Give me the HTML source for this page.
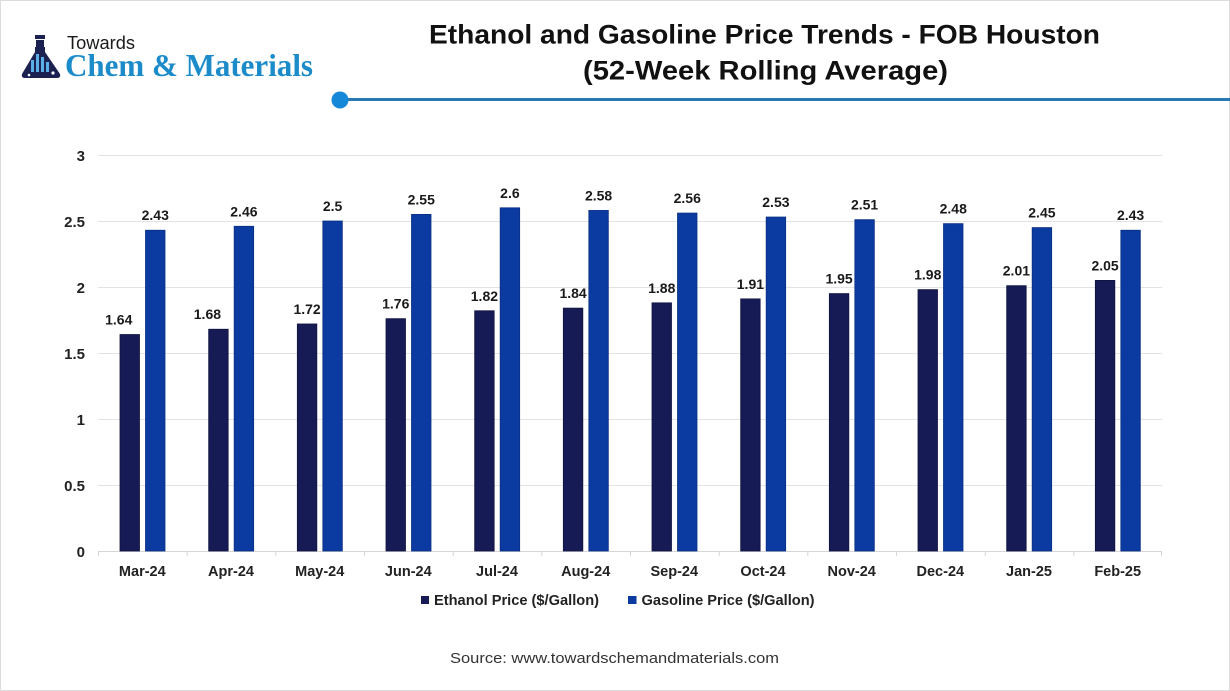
<!DOCTYPE html>
<html>
<head>
<meta charset="utf-8">
<style>
html,body{margin:0;padding:0;background:#fff;}
body{width:1230px;height:691px;overflow:hidden;}
svg{display:block;}
text{font-family:"Liberation Sans",sans-serif;}
</style>
</head>
<body>
<svg width="1230" height="691" viewBox="0 0 1230 691" xmlns="http://www.w3.org/2000/svg">
  <rect x="0.5" y="0.5" width="1229" height="690" fill="#fff" stroke="#dcdcdc" stroke-width="1"/>

  <!-- Logo icon -->
  <g>
    <rect x="35" y="35" width="10" height="4" fill="#1b2150"/>
    <rect x="36" y="40" width="8" height="7" fill="#1b2150"/>
    <path d="M35 47 L45 47 L45 52 L60 74 Q61 78 57 78 L25 78 Q21 78 22 74 L35 52 Z" fill="#1b2150"/>
    <rect x="31" y="60" width="3" height="12" fill="#5ab0e6"/>
    <rect x="36" y="54" width="3" height="18" fill="#5ab0e6"/>
    <rect x="41" y="57" width="3" height="15" fill="#5ab0e6"/>
    <rect x="46" y="62" width="3" height="10" fill="#5ab0e6"/>
    <circle cx="53" cy="73" r="1.6" fill="#ffffff"/>
    <circle cx="29" cy="75" r="1.3" fill="#ffffff"/>
  </g>
  <text x="67" y="49" font-size="18" fill="#1a1a1a" textLength="68" lengthAdjust="spacingAndGlyphs">Towards</text>
  <text x="65" y="76" font-size="32" font-weight="bold" fill="#1c8bc9" style="font-family:'Liberation Serif',serif" textLength="248" lengthAdjust="spacingAndGlyphs">Chem &amp; Materials</text>

  <!-- Title -->
  <text x="429" y="43.5" font-size="27" font-weight="bold" fill="#111" textLength="671" lengthAdjust="spacingAndGlyphs">Ethanol and Gasoline Price Trends - FOB Houston</text>
  <text x="583" y="79.5" font-size="27" font-weight="bold" fill="#111" textLength="365" lengthAdjust="spacingAndGlyphs">(52-Week Rolling Average)</text>

  <!-- Divider -->
  <line x1="340" y1="99.5" x2="1230" y2="99.5" stroke="#2a78b3" stroke-width="3"/>
  <circle cx="340" cy="100" r="8.5" fill="#1688d8"/>

  <!-- Gridlines -->
  <g stroke="#e3e3e3" stroke-width="1">
    <line x1="98" y1="155.5" x2="1162" y2="155.5"/>
    <line x1="98" y1="221.5" x2="1162" y2="221.5"/>
    <line x1="98" y1="287.5" x2="1162" y2="287.5"/>
    <line x1="98" y1="353.5" x2="1162" y2="353.5"/>
    <line x1="98" y1="419.5" x2="1162" y2="419.5"/>
    <line x1="98" y1="485.5" x2="1162" y2="485.5"/>
  </g>
  <line x1="98" y1="551.5" x2="1162" y2="551.5" stroke="#d6d6d6" stroke-width="1"/>
  <g stroke="#d6d6d6" stroke-width="1">
    <line x1="98.5" y1="551" x2="98.5" y2="556"/>
    <line x1="187.2" y1="551" x2="187.2" y2="556"/>
    <line x1="275.8" y1="551" x2="275.8" y2="556"/>
    <line x1="364.5" y1="551" x2="364.5" y2="556"/>
    <line x1="453.2" y1="551" x2="453.2" y2="556"/>
    <line x1="541.8" y1="551" x2="541.8" y2="556"/>
    <line x1="630.5" y1="551" x2="630.5" y2="556"/>
    <line x1="719.2" y1="551" x2="719.2" y2="556"/>
    <line x1="807.8" y1="551" x2="807.8" y2="556"/>
    <line x1="896.5" y1="551" x2="896.5" y2="556"/>
    <line x1="985.2" y1="551" x2="985.2" y2="556"/>
    <line x1="1073.8" y1="551" x2="1073.8" y2="556"/>
    <line x1="1161.5" y1="551" x2="1161.5" y2="556"/>
  </g>

  <!-- Y labels -->
  <g font-size="15" font-weight="bold" fill="#222" text-anchor="end">
    <text x="85" y="161">3</text>
    <text x="85" y="227">2.5</text>
    <text x="85" y="293">2</text>
    <text x="85" y="359">1.5</text>
    <text x="85" y="425">1</text>
    <text x="85" y="491">0.5</text>
    <text x="85" y="557">0</text>
  </g>

  <!-- Ethanol bars -->
  <g fill="#161a55" stroke="#10143f" stroke-width="0.8">
    <rect x="120" y="334.52" width="19.5" height="216.48"/>
    <rect x="208.67" y="329.24" width="19.5" height="221.76"/>
    <rect x="297.33" y="323.96" width="19.5" height="227.04"/>
    <rect x="386" y="318.68" width="19.5" height="232.32"/>
    <rect x="474.67" y="310.76" width="19.5" height="240.24"/>
    <rect x="563.33" y="308.12" width="19.5" height="242.88"/>
    <rect x="652" y="302.84" width="19.5" height="248.16"/>
    <rect x="740.67" y="298.88" width="19.5" height="252.12"/>
    <rect x="829.33" y="293.6" width="19.5" height="257.4"/>
    <rect x="918" y="289.64" width="19.5" height="261.36"/>
    <rect x="1006.67" y="285.68" width="19.5" height="265.32"/>
    <rect x="1095.33" y="280.4" width="19.5" height="270.6"/>
  </g>

  <!-- Gasoline bars -->
  <g fill="#0b3aa0" stroke="#092f82" stroke-width="0.8">
    <rect x="145.5" y="230.24" width="19.5" height="320.76"/>
    <rect x="234.17" y="226.28" width="19.5" height="324.72"/>
    <rect x="322.83" y="221" width="19.5" height="330"/>
    <rect x="411.5" y="214.4" width="19.5" height="336.6"/>
    <rect x="500.17" y="207.8" width="19.5" height="343.2"/>
    <rect x="588.83" y="210.44" width="19.5" height="340.56"/>
    <rect x="677.5" y="213.08" width="19.5" height="337.92"/>
    <rect x="766.17" y="217.04" width="19.5" height="333.96"/>
    <rect x="854.83" y="219.68" width="19.5" height="331.32"/>
    <rect x="943.5" y="223.64" width="19.5" height="327.36"/>
    <rect x="1032.17" y="227.6" width="19.5" height="323.4"/>
    <rect x="1120.83" y="230.24" width="19.5" height="320.76"/>
  </g>

  <!-- Ethanol labels -->
  <g font-size="14" font-weight="bold" fill="#1a1a1a" text-anchor="middle">
    <text x="118.75" y="324.5">1.64</text>
    <text x="207.4" y="319.2">1.68</text>
    <text x="307.1" y="314">1.72</text>
    <text x="395.75" y="308.7">1.76</text>
    <text x="484.4" y="300.8">1.82</text>
    <text x="573.1" y="298.1">1.84</text>
    <text x="661.75" y="292.8">1.88</text>
    <text x="750.4" y="288.9">1.91</text>
    <text x="839.1" y="283.6">1.95</text>
    <text x="927.75" y="279.6">1.98</text>
    <text x="1016.4" y="275.7">2.01</text>
    <text x="1105.1" y="270.4">2.05</text>
  </g>

  <!-- Gasoline labels -->
  <g font-size="14" font-weight="bold" fill="#1a1a1a" text-anchor="middle">
    <text x="155.25" y="220.2">2.43</text>
    <text x="243.9" y="216.3">2.46</text>
    <text x="332.6" y="211">2.5</text>
    <text x="421.25" y="204.4">2.55</text>
    <text x="509.9" y="197.8">2.6</text>
    <text x="598.6" y="200.4">2.58</text>
    <text x="687.25" y="203.1">2.56</text>
    <text x="775.9" y="207">2.53</text>
    <text x="864.6" y="209.7">2.51</text>
    <text x="953.25" y="213.6">2.48</text>
    <text x="1041.9" y="217.6">2.45</text>
    <text x="1130.6" y="220.2">2.43</text>
  </g>

  <!-- X labels -->
  <g font-size="14.5" font-weight="bold" fill="#222" text-anchor="middle">
    <text x="142.3" y="576">Mar-24</text>
    <text x="231" y="576">Apr-24</text>
    <text x="319.7" y="576">May-24</text>
    <text x="408.3" y="576">Jun-24</text>
    <text x="497" y="576">Jul-24</text>
    <text x="585.7" y="576">Aug-24</text>
    <text x="674.3" y="576">Sep-24</text>
    <text x="763" y="576">Oct-24</text>
    <text x="851.7" y="576">Nov-24</text>
    <text x="940.3" y="576">Dec-24</text>
    <text x="1029" y="576">Jan-25</text>
    <text x="1117.7" y="576">Feb-25</text>
  </g>

  <!-- Legend -->
  <rect x="421" y="596" width="8" height="8" fill="#161a55"/>
  <text x="434" y="605" font-size="14.5" font-weight="bold" fill="#222" textLength="165" lengthAdjust="spacingAndGlyphs">Ethanol Price ($/Gallon)</text>
  <rect x="628" y="596" width="8.5" height="8" fill="#0b3aa0"/>
  <text x="641.5" y="605" font-size="14.5" font-weight="bold" fill="#222" textLength="173" lengthAdjust="spacingAndGlyphs">Gasoline Price ($/Gallon)</text>

  <!-- Source -->
  <text x="450" y="663" font-size="15" fill="#333" textLength="329" lengthAdjust="spacingAndGlyphs">Source: www.towardschemandmaterials.com</text>
</svg>
</body>
</html>
